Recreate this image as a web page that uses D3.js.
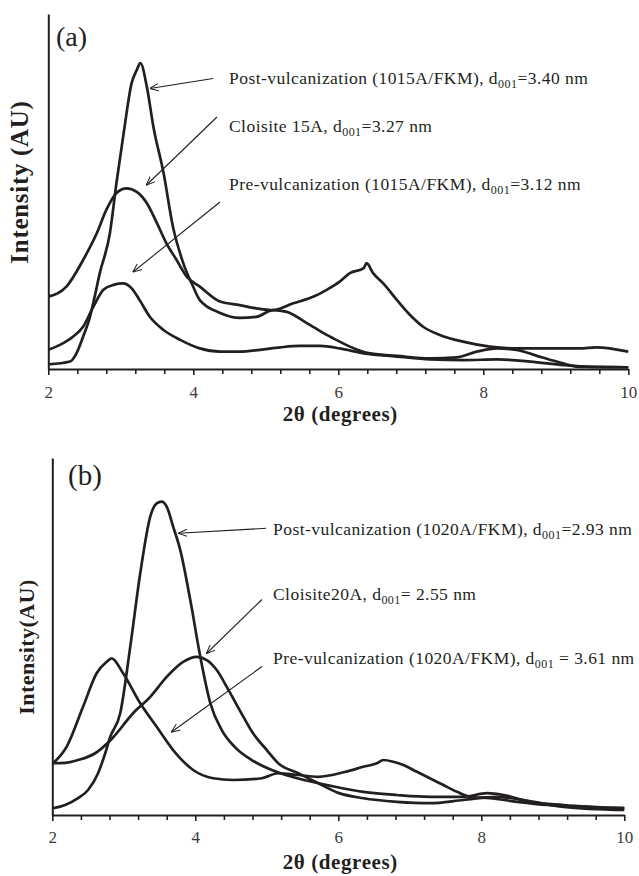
<!DOCTYPE html>
<html>
<head>
<meta charset="utf-8">
<script src="https://cdn.jsdelivr.net/npm/d3@7"></script>
<style>
  html, body { margin: 0; padding: 0; background: #fff; }
  svg { display: block; }
  text { font-family: "Liberation Serif", "Times New Roman", serif; }
</style>
</head>
<body>
<div id="chart"></div>
<script>
// XRD patterns, 2θ (degrees) vs. intensity (arbitrary units, 0–100 scale)

// Panel (a): Cloisite 15A and its FKM nanocomposite
const post1015A = [
  [2.00,1.3],[2.30,2.1],[2.39,4.5],[2.48,9.1],[2.575,14.7],[2.64,20.4],[2.71,27.0],
  [2.85,38.3],[2.94,52.4],[3.04,66.5],[3.15,80.6],[3.22,84.2],[3.27,86.2],[3.36,79.4],
  [3.45,68.2],[3.59,55.2],[3.72,40.0],[3.86,29.9],[4.00,23.1],[4.09,19.4],[4.37,15.8],
  [4.64,14.4],[4.87,14.7],[5.10,16.6],[5.29,16.1],[5.56,13.0],[5.84,9.6],[6.02,7.7],
  [6.16,6.3],[6.44,4.4],[6.81,3.7],[7.27,3.0],[7.63,3.3],[7.91,4.9],[8.19,5.8],
  [8.46,5.4],[8.74,3.7],[9.01,2.1],[9.33,0.6],[10.0,0.5]
];
const cloisite15A = [
  [2.00,20.4],[2.25,23.2],[2.48,30.7],[2.67,38.3],[2.80,44.8],[2.94,49.6],[3.08,50.9],
  [3.22,49.9],[3.36,46.7],[3.50,41.0],[3.63,35.4],[3.77,30.7],[3.91,26.0],[4.09,23.2],
  [4.37,19.0],[4.64,18.0],[4.87,17.1],[5.10,16.6],[5.38,18.5],[5.66,20.4],[5.84,22.3],
  [6.02,24.6],[6.16,27.0],[6.35,28.4],[6.39,29.8],[6.48,27.0],[6.62,24.1],[6.81,19.4],
  [6.99,15.2],[7.17,11.9],[7.40,9.6],[7.72,7.7],[8.09,6.3],[8.46,5.8],[8.87,5.8],
  [9.33,5.8],[9.56,6.1],[10.0,4.9]
];
const pre1015A = [
  [2.00,5.4],[2.16,6.8],[2.34,9.1],[2.48,11.9],[2.62,17.5],[2.76,22.3],[2.90,23.7],
  [3.03,24.1],[3.15,22.7],[3.26,19.4],[3.40,14.7],[3.59,11.0],[3.82,8.2],[4.09,5.8],
  [4.37,4.9],[4.64,4.9],[4.92,5.4],[5.20,6.1],[5.47,6.5],[5.75,6.5],[6.02,5.8],
  [6.35,4.4],[6.81,3.5],[7.27,2.7],[7.73,2.5],[8.19,2.7],[8.65,2.1],[9.11,1.1],
  [9.50,0.6],[10.0,0.5]
];

// Panel (b): Cloisite 20A and its FKM nanocomposite
const post1020A = [
  [2.01,1.9],[2.18,2.8],[2.36,4.7],[2.50,7.0],[2.64,11.7],[2.74,17.3],[2.81,21.9],
  [2.95,28.5],[3.09,47.1],[3.23,67.7],[3.37,83.6],[3.46,87.3],[3.53,87.8],[3.60,86.4],
  [3.69,80.8],[3.79,74.2],[3.93,60.2],[4.07,44.3],[4.21,31.3],[4.37,23.8],[4.55,19.1],
  [4.79,15.4],[5.07,12.6],[5.35,10.7],[5.63,9.3],[5.91,8.1],[6.35,6.5],[6.82,5.6],
  [7.28,5.1],[7.75,5.1],[8.08,6.1],[8.31,5.6],[8.68,3.7],[9.15,2.8],[10.0,1.9]
];
const cloisite20A = [
  [2.01,14.5],[2.18,14.6],[2.36,15.4],[2.60,17.3],[2.83,21.3],[3.13,28.5],[3.37,33.1],
  [3.60,38.7],[3.83,42.9],[4.02,44.3],[4.16,43.4],[4.30,40.6],[4.44,35.9],[4.62,29.4],
  [4.81,22.8],[5.00,18.2],[5.16,14.5],[5.44,11.7],[5.72,8.9],[6.00,6.2],[6.35,4.7],
  [6.82,3.7],[7.28,3.3],[7.75,4.2],[8.22,5.1],[8.59,4.2],[9.15,2.3],[10.0,1.4]
];
const pre1020A = [
  [2.01,14.5],[2.20,19.1],[2.43,30.3],[2.62,39.7],[2.76,42.9],[2.83,43.9],[2.99,39.7],
  [3.23,31.3],[3.46,24.7],[3.69,18.2],[3.97,12.6],[4.25,10.3],[4.53,9.8],[4.93,10.3],
  [5.16,11.7],[5.44,11.2],[5.72,10.7],[6.10,12.1],[6.35,13.5],[6.54,14.5],[6.63,15.4],
  [6.77,14.9],[6.91,14.0],[7.10,12.1],[7.28,10.3],[7.47,8.4],[7.66,6.5],[7.84,5.1],
  [8.12,4.7],[8.50,3.7],[8.92,2.8],[9.39,2.3],[10.0,1.9]
];

// Axis ticks and labels
const xTicks = [2, 2.4, 2.8, 3.2, 3.6, 4, 4.4, 4.8, 5.2, 5.6, 6, 6.4, 6.8, 7.2, 7.6, 8, 8.4, 8.8, 9.2, 9.6, 10];
const xTickLabels = [2, 4, 6, 8, 10];
const xTitle = "2θ (degrees)";
const panelTags = ["(a)", "(b)"];
const yTitles = ["Intensity (AU)", "Intensity(AU)"];

// Annotation texts: [before subscript, subscript, after subscript]
const notesA = [
  ["Post-vulcanization (1015A/FKM), d", "001", "=3.40 nm"],
  ["Cloisite 15A, d", "001", "=3.27 nm"],
  ["Pre-vulcanization (1015A/FKM), d", "001", "=3.12 nm"]
];
const notesB = [
  ["Post-vulcanization (1020A/FKM), d", "001", "=2.93 nm"],
  ["Cloisite20A, d", "001", "= 2.55 nm"],
  ["Pre-vulcanization (1020A/FKM), d", "001", " = 3.61 nm"]
];

const INK = "#231f20";
const SERIF = "'Liberation Serif', 'Times New Roman', serif";
const W = 639, H = 876;

const svg = d3.select("#chart").append("svg")
  .attr("width", W).attr("height", H);

const defs = svg.append("defs");
defs.append("marker")
  .attr("id", "arrowhead")
  .attr("viewBox", "0 0 10 10")
  .attr("refX", 9.5).attr("refY", 5)
  .attr("markerWidth", 9).attr("markerHeight", 9)
  .attr("markerUnits", "userSpaceOnUse")
  .attr("orient", "auto")
  .append("path")
  .attr("d", "M0,1 L10,5 L0,9")
  .attr("fill", "none")
  .attr("stroke", INK)
  .attr("stroke-width", 1.1);

function isLabelled(d) {
  return xTickLabels.some(v => Math.abs(v - d) < 1e-6);
}

function drawPanel(cfg) {
  const x = d3.scaleLinear().domain([2, 10]).range([cfg.left, cfg.right]);
  const y = d3.scaleLinear().domain([0, 100]).range([cfg.bottom, cfg.top]);
  const g = svg.append("g");

  // diffraction curves
  const line = d3.line()
    .x(d => x(d[0])).y(d => y(d[1]))
    .curve(d3.curveMonotoneX);
  cfg.series.forEach(s => {
    g.append("path")
      .datum(s)
      .attr("d", line)
      .attr("fill", "none")
      .attr("stroke", INK)
      .attr("stroke-width", 2.7)
      .attr("stroke-linejoin", "round");
  });

  // x axis with outward ticks every 0.4°
  const xAxis = d3.axisBottom(x)
    .tickValues(xTicks)
    .tickSize(5)
    .tickSizeOuter(0)
    .tickFormat(d => isLabelled(d) ? d3.format("d")(d) : "");
  const ax = g.append("g")
    .attr("transform", `translate(0,${cfg.bottom})`)
    .call(xAxis)
    .attr("font-family", SERIF)
    .attr("font-size", 17);
  ax.select(".domain").attr("stroke", INK).attr("stroke-width", 2);
  ax.selectAll(".tick line").attr("stroke", INK).attr("stroke-width", 1.6)
    .attr("y2", d => isLabelled(d) ? 6 : 5);
  ax.selectAll(".tick text")
    .attr("y", cfg.tickBaseline)
    .attr("dy", null)
    .attr("fill", "#3a3a3a")
    .style("font-family", SERIF)
    .style("font-size", "17px");

  // y axis: bare spine
  const yAxis = d3.axisLeft(y).tickValues([]).tickSizeOuter(0);
  const ay = g.append("g")
    .attr("transform", `translate(${cfg.left},0)`)
    .call(yAxis);
  ay.select(".domain").attr("stroke", INK).attr("stroke-width", 2);

  // axis titles
  g.append("text")
    .attr("x", (cfg.left + cfg.right) / 2 + 2)
    .attr("y", cfg.xTitleY)
    .attr("text-anchor", "middle")
    .attr("font-weight", "bold")
    .attr("font-size", 21)
    .attr("letter-spacing", 0.6)
    .attr("fill", INK)
    .text(xTitle);

  g.append("text")
    .attr("transform", `translate(${cfg.yTitleX},${cfg.yTitleY}) rotate(-90)`)
    .attr("text-anchor", "middle")
    .attr("font-weight", "bold")
    .attr("font-size", cfg.yTitleSize)
    .attr("letter-spacing", cfg.yTitleSpacing)
    .attr("fill", INK)
    .text(cfg.yTitle);

  // panel tag
  g.append("text")
    .attr("x", cfg.tagX).attr("y", cfg.tagY)
    .attr("font-size", cfg.tagSize)
    .attr("fill", INK)
    .text(cfg.tag);

  // peak annotations with arrows
  cfg.notes.forEach((n, i) => {
    const a = cfg.arrows[i];
    g.append("line")
      .attr("x1", a[0]).attr("y1", a[1])
      .attr("x2", a[2]).attr("y2", a[3])
      .attr("stroke", INK)
      .attr("stroke-width", 1.1)
      .attr("marker-end", "url(#arrowhead)");
    const t = g.append("text")
      .attr("x", cfg.noteX).attr("y", cfg.noteY[i])
      .attr("font-size", 17.5)
      .attr("letter-spacing", 0.45)
      .attr("fill", INK);
    t.append("tspan").text(n[0]);
    t.append("tspan").attr("font-size", 12).attr("dy", 4).text(n[1]);
    t.append("tspan").attr("dy", -4).text(n[2]);
  });
}

drawPanel({
  left: 48.3, right: 628.3, top: 14, bottom: 369,
  tickBaseline: 29,
  xTitleY: 421,
  yTitle: yTitles[0], yTitleX: 28, yTitleY: 182, yTitleSize: 25, yTitleSpacing: 0.7,
  tag: panelTags[0], tagX: 56, tagY: 46, tagSize: 28,
  series: [post1015A, cloisite15A, pre1015A],
  notes: notesA,
  noteX: 229, noteY: [83.5, 131.5, 190],
  arrows: [[213, 78.5, 150, 88.5], [217, 117, 146.5, 185], [220, 202, 133, 272]]
});

drawPanel({
  left: 52.3, right: 624.3, top: 458, bottom: 815,
  tickBaseline: 28,
  xTitleY: 869,
  yTitle: yTitles[1], yTitleX: 34, yTitleY: 647, yTitleSize: 22, yTitleSpacing: 0.45,
  tag: panelTags[1], tagX: 68, tagY: 485, tagSize: 29,
  series: [post1020A, cloisite20A, pre1020A],
  notes: notesB,
  noteX: 273, noteY: [535, 600, 663.5],
  arrows: [[266, 528.3, 178.5, 533.3], [262, 599.5, 206.5, 653.5], [262, 666.5, 171.5, 732]]
});
</script>
</body>
</html>
